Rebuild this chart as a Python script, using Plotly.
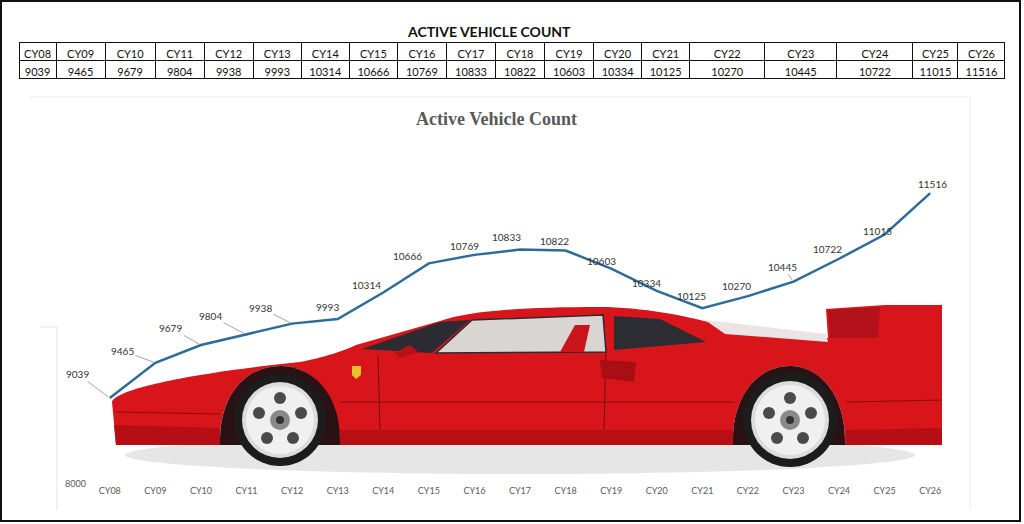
import re
import plotly.graph_objects as go

W, H = 1024, 524

years = ['CY08', 'CY09', 'CY10', 'CY11', 'CY12', 'CY13', 'CY14', 'CY15', 'CY16', 'CY17',
         'CY18', 'CY19', 'CY20', 'CY21', 'CY22', 'CY23', 'CY24', 'CY25', 'CY26']
vehicles = [9039, 9465, 9679, 9804, 9938, 9993, 10314, 10666, 10769, 10833,
            10822, 10603, 10334, 10125, 10270, 10445, 10722, 11015, 11516]

# table column widths (px) and label offsets (px, screen coords)
col_widths = [37, 49, 50, 49, 49, 48, 48, 48, 49, 49, 49, 49, 48, 48, 75, 72, 76, 45, 47]
label_offsets = [(-32, -24), (-33, -12), (-30, -17), (-36, -19), (-32, -16), (-10, -12),
                 (-17, -8), (-21, -7), (-10, -9), (-14, -13), (-11, -9), (-10, -8),
                 (-10, -8), (-11, -12), (-11, -10), (-11, -15), (-12, -10), (-7, -4), (2, -9)]
leader = [True, True, True, True, True, False, False, False, False, False, False, False,
          False, False, False, True, False, False, False]


def pp(d):
    # pixel path -> paper path
    def conv(m):
        x, y = float(m.group(1)), float(m.group(2))
        return f"{x / W:.5f},{1 - y / H:.5f}"
    return re.sub(r'(-?\d+\.?\d*),(-?\d+\.?\d*)', conv, d)


def circ(cx, cy, r, color):
    return dict(type='circle', xref='paper', yref='paper', layer='below',
                x0=(cx - r) / W, x1=(cx + r) / W, y0=1 - (cy + r) / H, y1=1 - (cy - r) / H,
                fillcolor=color, line=dict(width=0))


def poly(d, color, width=0, lcolor=None, opacity=1):
    return dict(type='path', xref='paper', yref='paper', layer='below', path=pp(d),
                fillcolor=color, opacity=opacity,
                line=dict(width=width, color=lcolor or color))


def seg(d, color, width=1):
    return dict(type='path', xref='paper', yref='paper', layer='below', path=pp(d),
                line=dict(width=width, color=color))


fig = go.Figure()

fig.add_trace(go.Table(
    domain=dict(x=[19 / W, 1005 / W], y=[0.78, 1 - 42 / H]),
    columnwidth=col_widths,
    header=dict(values=years, height=18, align='center', fill_color='white',
                line=dict(color='#111111', width=1),
                font=dict(family='Lato', size=11, color='#111111')),
    cells=dict(values=[[v] for v in vehicles], height=18, align='center', fill_color='white',
               line=dict(color='#111111', width=1),
               font=dict(family='Lato', size=11, color='#111111')),
))

fig.add_trace(go.Scatter(
    x=years, y=vehicles, mode='lines',
    line=dict(color='#2D6C99', width=2.5),
    hoverinfo='x+y', showlegend=False,
))

shapes = [
    # faint edges of the pasted chart picture
    seg('M 30,97 L 970,97', '#ececec', 1),
    seg('M 970,97 L 970,510', '#ececec', 1),
    seg('M 40,327 L 57,327 L 57,510', '#e4e4e4', 1),
    # shadow
    dict(type='circle', xref='paper', yref='paper', layer='below',
         x0=125 / W, x1=915 / W, y0=1 - 474 / H, y1=1 - 436 / H,
         fillcolor='#d4d2d2', opacity=0.55, line=dict(width=0)),
    # body
    poly('M 112,402 C 116,388 200,372 300,362 C 330,356 345,350 356,345 L 440,321 '
         'C 470,311 520,307 600,307 C 640,307 690,316 722,326 L 828,338 L 826,309 '
         'L 885,305 L 942,305 L 942,445 L 846,445 L 845,440 C 845,395 820,366 790,366 '
         'C 758,366 733,395 733,440 L 340,445 C 340,395 314,366 280,366 '
         'C 246,366 220,395 220,440 L 116,445 Z', '#d8151b'),
    # wheel arch interiors
    poly('M 220,445 L 220,440 C 220,395 246,366 280,366 C 314,366 340,395 340,440 L 340,445 Z',
         '#2a1214'),
    poly('M 733,445 L 733,440 C 733,395 758,366 790,366 C 820,366 845,395 845,440 L 846,445 Z',
         '#2a1214'),
    # lower darker band
    poly('M 114,425 L 220,428 L 220,445 L 116,445 Z', '#b50f15'),
    poly('M 340,430 L 733,430 L 733,445 L 340,445 Z', '#b80f15'),
    poly('M 846,430 L 942,428 L 942,445 L 846,445 Z', '#b50f15'),
    # spoiler upright shading
    poly('M 828,310 L 880,307 L 878,338 L 830,338 Z', '#b3121a'),
    # engine cover reflection
    poly('M 705,320 L 826,334 L 828,342 L 725,334 Z', '#ece4e4'),
    # windscreen and windows
    poly('M 362,349 L 440,322 L 470,320 L 432,353 Z', '#2b2b31'),
    poly('M 436,353 L 472,320 L 603,315 L 606,352 Z', '#d9d5d2', 1.5, '#2b2b31'),
    poly('M 614,316 L 660,319 L 706,342 L 614,350 Z', '#2c2c33'),
    poly('M 560,352 L 575,325 L 590,325 L 584,352 Z', '#c9151c'),
    # mirror
    poly('M 394,353 L 410,345 L 418,352 L 400,358 Z', '#b90f16'),
    # door gaps and side lines
    seg('M 378,356 L 380,430', '#7a0a0e', 1),
    seg('M 606,352 L 604,430', '#7a0a0e', 1),
    seg('M 340,402 L 733,402', '#8c0c10', 1),
    seg('M 846,402 L 942,400', '#8c0c10', 1),
    seg('M 116,412 L 220,414', '#8c0c10', 1),
    poly('M 600,360 L 636,362 L 634,382 L 602,378 Z', '#a80e14'),
    # badge
    poly('M 352,366 L 361,366 L 361,375 L 356,379 L 352,375 Z', '#e8c02a'),
]

# wheels
for cx, cy, r in [(280, 420, 46), (790, 420, 47)]:
    shapes.append(circ(cx, cy, r, '#1c1c1c'))
    shapes.append(circ(cx, cy, r - 8, '#dcdcdc'))
    shapes.append(circ(cx, cy, r - 12, '#f0f0f0'))
    for dx, dy in [(0, -22), (21, -7), (13, 18), (-13, 18), (-21, -7)]:
        shapes.append(circ(cx + dx, cy + dy, 6, '#4a4a4a'))
    shapes.append(circ(cx, cy, 10, '#8a8a8a'))
    shapes.append(circ(cx, cy, 4, '#333333'))

# outer frame
shapes.append(dict(type='rect', xref='paper', yref='paper', x0=1 / W, x1=1020 / W,
                   y0=1 - 521 / H, y1=1 - 1 / H, line=dict(color='#111111', width=2)))

annotations = [
    dict(text='<b>ACTIVE VEHICLE COUNT</b>', xref='paper', yref='paper', x=489 / W, y=1 - 32 / H,
         xanchor='center', yanchor='middle', showarrow=False,
         font=dict(family='Lato', size=14, color='#111111')),
    dict(text='<b>Active Vehicle Count</b>', xref='paper', yref='paper', x=496 / W, y=1 - 119 / H,
         xanchor='center', yanchor='middle', showarrow=False,
         font=dict(family='Liberation Serif', size=18, color='#595959')),
]

for yr, v, (dx, dy), ld in zip(years, vehicles, label_offsets, leader):
    a = dict(x=yr, y=v, xref='x', yref='y', text=str(v),
             font=dict(family='Lato', size=10, color='#333333'))
    if ld:
        a.update(showarrow=True, arrowhead=0, arrowwidth=0.8, arrowcolor='#8c8c8c',
                 ax=dx, ay=dy, standoff=2)
    else:
        a.update(showarrow=False, xshift=dx, yshift=-dy)
    annotations.append(a)

fig.update_layout(
    width=W, height=H,
    margin=dict(l=0, r=0, t=0, b=0),
    paper_bgcolor='white', plot_bgcolor='rgba(0,0,0,0)',
    showlegend=False,
    xaxis=dict(domain=[87 / W, 953 / W], type='category', range=[-0.5, 18.5], automargin=False,
               showgrid=False, zeroline=False, showline=False, ticks='',
               tickfont=dict(family='Lato', size=9, color='#595959')),
    yaxis=dict(domain=[1 - 484 / H, 1 - 153 / H], range=[8000, 12000], tickvals=[8000],
               automargin=False, showgrid=False, zeroline=False, showline=False, ticks='',
               tickfont=dict(family='Lato', size=9, color='#595959')),
    shapes=shapes,
    annotations=annotations,
)

fig.write_html("out.html", config={'displayModeBar': False},
               post_script="document.body.style.margin='0';")
